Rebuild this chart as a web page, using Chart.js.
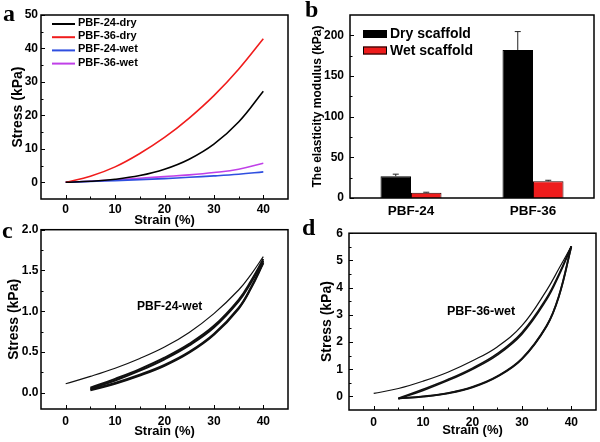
<!DOCTYPE html>
<html><head><meta charset="utf-8">
<script src="https://cdn.jsdelivr.net/npm/chart.js@4.4.0/dist/chart.umd.min.js"></script>
<style>
html,body{margin:0;padding:0;background:#fff;}
#wrap{position:relative;width:600px;height:442px;overflow:hidden;font-family:"Liberation Sans",Arial,sans-serif;}
.pc{position:absolute;}
.lt{position:absolute;font-family:"Liberation Serif","Times New Roman",serif;font-weight:bold;font-size:24px;line-height:1;color:#000;}
.ann{position:absolute;font-family:"Liberation Sans",Arial,sans-serif;font-weight:bold;white-space:nowrap;line-height:1;color:#000;}
</style></head>
<body><div id="wrap">
<div class="pc" style="left:0;top:0"><canvas id="ca" width="300" height="232"></canvas></div>
<div class="pc" style="left:300px;top:0"><canvas id="cb" width="300" height="225"></canvas></div>
<div class="pc" style="left:0;top:220px"><canvas id="cc" width="300" height="222"></canvas></div>
<div class="pc" style="left:300px;top:220px"><canvas id="cd" width="300" height="222"></canvas></div>
<div class="lt" style="left:3px;top:1px">a</div>
<div class="lt" style="left:305px;top:-3px">b</div>
<div class="lt" style="left:2px;top:218px">c</div>
<div class="lt" style="left:302px;top:215px">d</div>
<div class="ann" style="left:137px;top:300px;font-size:12px">PBF-24-wet</div>
<div class="ann" style="left:447px;top:305px;font-size:12.5px">PBF-36-wet</div>
</div>
<script>
// ---------- Panel a: stress-strain curves ----------
const strainA = [0, 5, 10, 15, 20, 25, 30, 35, 40];
const seriesA = ['PBF-24-dry', 'PBF-36-dry', 'PBF-24-wet', 'PBF-36-wet'];
const stressPBF24dry = [0, 0.3, 0.9, 2.0, 3.9, 6.9, 11.4, 18.0, 27.2];
const stressPBF36dry = [0, 1.8, 4.6, 8.6, 13.4, 19.2, 25.9, 33.8, 42.9];
const stressPBF24wet = [0, 0.25, 0.5, 0.8, 1.1, 1.5, 1.9, 2.4, 3.1];
const stressPBF36wet = [0, 0.3, 0.7, 1.2, 1.7, 2.2, 2.9, 3.9, 5.7];
const xTicksA = [0, 10, 20, 30, 40];
const yTicksA = [0, 10, 20, 30, 40, 50];

// ---------- Panel b: elasticity modulus ----------
const groupsB = ['PBF-24', 'PBF-36'];
const seriesB = ['Dry scaffold', 'Wet scaffold'];
const dryModulus = [26.8, 182];
const dryError = [2.5, 22.6];
const wetModulus = [6.6, 20.6];
const wetError = [0.5, 1.2];
const yTicksB = [0, 50, 100, 150, 200];

// ---------- Panel c: PBF-24-wet cyclic loading ----------
const strainC1 = [0, 5, 10, 15, 20, 25, 30, 35, 37.5, 40];
const cLoad1 = [0.11, 0.20, 0.30, 0.42, 0.56, 0.74, 0.97, 1.26, 1.45, 1.67];
const strainC = [5, 10, 15, 20, 25, 30, 35, 37.5, 40];
const cLoad2 = [0.06, 0.17, 0.29, 0.43, 0.60, 0.82, 1.14, 1.37, 1.64];
const cLoad3 = [0.05, 0.15, 0.27, 0.41, 0.58, 0.80, 1.12, 1.35, 1.62];
const cUnload1 = [0.04, 0.12, 0.22, 0.34, 0.50, 0.72, 1.04, 1.29, 1.60];
const cUnload2 = [0.03, 0.11, 0.21, 0.33, 0.49, 0.71, 1.03, 1.28, 1.59];
const xTicksC = [0, 10, 20, 30, 40];
const yTicksC = [0, 0.5, 1.0, 1.5, 2.0];

// ---------- Panel d: PBF-36-wet cyclic loading ----------
const strainD1 = [0, 5, 10, 15, 20, 25, 30, 35, 37.5, 40];
const dLoad1 = [0.11, 0.29, 0.56, 0.89, 1.31, 1.82, 2.6, 3.9, 4.7, 5.52];
const strainD = [5, 10, 15, 20, 25, 30, 35, 37.5, 40];
const dLoad2 = [-0.07, 0.26, 0.62, 1.04, 1.57, 2.35, 3.62, 4.5, 5.52];
const dLoad3 = [-0.09, 0.22, 0.58, 1.00, 1.52, 2.29, 3.56, 4.45, 5.50];
const dUnload1 = [-0.07, 0.0, 0.12, 0.35, 0.74, 1.39, 2.6, 3.7, 5.52];
const dUnload2 = [-0.08, -0.01, 0.11, 0.33, 0.72, 1.37, 2.58, 3.68, 5.50];
const xTicksD = [0, 10, 20, 30, 40];
const yTicksD = [0, 1, 2, 3, 4, 5, 6];

const FONT = '"Liberation Sans", Arial, sans-serif';
const zip = (xs, ys) => xs.map((x, i) => ({x: x, y: ys[i]}));
const mids = (arr) => arr.slice(0, -1).map((v, i) => (v + arr[i + 1]) / 2);

// frame + inward ticks + legends + error bars
const decor = {
  id: 'decor',
  afterDatasetsDraw(chart, args, o) {
    const ctx = chart.ctx;
    const {left, right, top, bottom} = chart.chartArea;
    ctx.save();
    chart.data.datasets.forEach((ds, di) => {
      if (!ds.errors) return;
      const meta = chart.getDatasetMeta(di);
      const ys = chart.scales.y;
      meta.data.forEach((el, i) => {
        const yv = ys.getPixelForValue(ds.data[i] + ds.errors[i]);
        ctx.strokeStyle = '#222'; ctx.lineWidth = 1;
        ctx.beginPath();
        ctx.moveTo(el.x, el.y); ctx.lineTo(el.x, yv);
        ctx.moveTo(el.x - 3, yv); ctx.lineTo(el.x + 3, yv);
        ctx.stroke();
      });
    });
    ctx.strokeStyle = '#000'; ctx.lineWidth = 1;
    const xs = chart.scales.x, ys = chart.scales.y;
    const tk = (vals, len, axis) => {
      (vals || []).forEach(v => {
        ctx.beginPath();
        if (axis === 'x') {
          const p = Math.round(xs.getPixelForValue(v)) + 0.5;
          ctx.moveTo(p, bottom); ctx.lineTo(p, bottom - len);
        } else {
          const p = Math.round(ys.getPixelForValue(v)) + 0.5;
          ctx.moveTo(left, p); ctx.lineTo(left + len, p);
        }
        ctx.stroke();
      });
    };
    tk(o.xMajor, 4, 'x'); tk(o.xMinor, 2.5, 'x');
    tk(o.yMajor, 4, 'y'); tk(o.yMinor, 2.5, 'y');
    ctx.lineWidth = 1.5;
    ctx.strokeRect(left, top, right - left, bottom - top);
    if (o.legend) {
      const L = o.legend;
      ctx.font = 'bold ' + L.size + 'px ' + FONT;
      ctx.textBaseline = 'middle'; ctx.textAlign = 'left'; ctx.fillStyle = '#000';
      chart.data.datasets.forEach((ds, i) => {
        const y = L.y + i * L.dy;
        if (L.type === 'line') {
          ctx.strokeStyle = ds.borderColor; ctx.lineWidth = 2;
          ctx.beginPath(); ctx.moveTo(L.x, y); ctx.lineTo(L.x + L.len, y); ctx.stroke();
          ctx.fillStyle = '#000';
          ctx.fillText(ds.label, L.x + L.len + 3, y - 1);
        } else {
          ctx.fillStyle = ds.backgroundColor;
          ctx.fillRect(L.x, y - 4, L.len, 8);
          ctx.strokeStyle = '#000'; ctx.lineWidth = 1;
          ctx.strokeRect(L.x + 0.5, y - 3.5, L.len - 1, 7);
          ctx.fillStyle = '#000';
          ctx.fillText(ds.label, L.x + L.len + 3, y + 0.5);
        }
      });
    }
    ctx.restore();
  }
};

function linScale(ticks, min, max, title, tsize, tpad, size, lpad, fmt, isX) {
  return {
    type: 'linear', min: min, max: max,
    grid: {display: false, drawTicks: false}, border: {display: false},
    afterBuildTicks: s => { s.ticks = ticks.map(v => ({value: v})); },
    afterFit: s => { if (isX) s.height = size; else s.width = size; },
    ticks: {color: '#000', padding: lpad, font: {family: FONT, size: 12, weight: 'bold'},
      callback: fmt || (v => String(v))},
    title: {display: true, text: title, color: '#000', padding: tpad,
      font: {family: FONT, size: tsize, weight: 'bold'}}
  };
}

const baseOpts = (pad) => ({
  responsive: false, animation: false, devicePixelRatio: 1,
  layout: {padding: pad},
  plugins: {legend: {display: false}, tooltip: {enabled: false}}
});

// ---- Chart a ----
const colorsA = ['#000000', '#f01c1c', '#2f4fe0', '#c040e8'];
const valuesA = [stressPBF24dry, stressPBF36dry, stressPBF24wet, stressPBF36wet];
const optA = baseOpts({left: 0, top: 15, right: 12, bottom: 0});
optA.scales = {
  x: linScale(xTicksA, -5, 45, 'Strain (%)', 13, {bottom: 4.2}, 33, 3, null, true),
  y: linScale(yTicksA, -5, 50, 'Stress (kPa)', 14, {top: 9.6}, 41, 3, null, false)
};
optA.plugins.decor = {xMajor: xTicksA, xMinor: mids(xTicksA), yMajor: yTicksA, yMinor: mids(yTicksA),
  legend: {type: 'line', x: 52, y: 24, dy: 13.2, len: 23, size: 11}};
new Chart(document.getElementById('ca'), {
  type: 'line',
  data: {datasets: seriesA.map((n, i) => ({label: n, data: zip(strainA, valuesA[i]),
    borderColor: colorsA[i], borderWidth: 1.6, pointRadius: 0, tension: 0.4, fill: false}))},
  options: optA, plugins: [decor]
});

// ---- Chart b ----
const optB = baseOpts({left: 0, top: 15, right: 6, bottom: 0});
optB.scales = {
  x: {type: 'category', offset: true, grid: {display: false, drawTicks: false}, border: {display: false},
      afterFit: s => { s.height = 27; },
      ticks: {color: '#000', padding: 5, font: {family: FONT, size: 13.5, weight: 'bold'}}},
  y: linScale(yTicksB, 0, 225, 'The elasticity modulus (kPa)', 12, {top: 10.3}, 50, 6, null, false)
};
optB.plugins.decor = {yMajor: yTicksB, yMinor: mids(yTicksB),
  legend: {type: 'box', x: 63, y: 34, dy: 16.5, len: 24, size: 14}};
new Chart(document.getElementById('cb'), {
  type: 'bar',
  data: {labels: groupsB, datasets: [
    {label: seriesB[0], data: dryModulus, errors: dryError, backgroundColor: '#000000', borderColor: '#000', borderWidth: 1,
      categoryPercentage: 0.5, barPercentage: 1.0},
    {label: seriesB[1], data: wetModulus, errors: wetError, backgroundColor: '#ee1c1c', borderColor: '#300', borderWidth: 1,
      categoryPercentage: 0.5, barPercentage: 1.0}
  ]},
  options: optB, plugins: [decor]
});

// ---- Chart c ----
const optC = baseOpts({left: 0, top: 7, right: 12, bottom: 0});
optC.scales = {
  x: linScale(xTicksC, -5, 45, 'Strain (%)', 13, {bottom: 3.2}, 33, 5, null, true),
  y: linScale(yTicksC, -0.2, 2.0, 'Stress (kPa)', 14, {top: 5.6}, 41, 2.5, v => v.toFixed(1), false)
};
optC.plugins.decor = {xMajor: xTicksC, xMinor: mids(xTicksC), yMajor: yTicksC, yMinor: mids(yTicksC)};
const lineDs = (xs, ys, w) => ({data: zip(xs, ys), borderColor: '#111', borderWidth: w, pointRadius: 0,
  tension: 0.4, fill: false});
new Chart(document.getElementById('cc'), {
  type: 'line',
  data: {datasets: [lineDs(strainC1, cLoad1, 1.2), lineDs(strainC, cLoad2, 2), lineDs(strainC, cLoad3, 2),
    lineDs(strainC, cUnload1, 2), lineDs(strainC, cUnload2, 2)]},
  options: optC, plugins: [decor]
});

// ---- Chart d ----
const optD = baseOpts({left: 0, top: 9, right: 4, bottom: 0});
optD.scales = {
  x: linScale(xTicksD, -5, 45, 'Strain (%)', 13, {bottom: 4.2}, 32, 5, null, true),
  y: linScale(yTicksD, -0.5, 6, 'Stress (kPa)', 14, {top: 19}, 49, 6, null, false)
};
optD.plugins.decor = {xMajor: xTicksD, xMinor: mids(xTicksD), yMajor: yTicksD, yMinor: mids(yTicksD)};
new Chart(document.getElementById('cd'), {
  type: 'line',
  data: {datasets: [lineDs(strainD1, dLoad1, 1.2), lineDs(strainD, dLoad2, 1.6), lineDs(strainD, dLoad3, 1.6),
    lineDs(strainD, dUnload1, 1.8), lineDs(strainD, dUnload2, 1.8)]},
  options: optD, plugins: [decor]
});
</script>
</body></html>
